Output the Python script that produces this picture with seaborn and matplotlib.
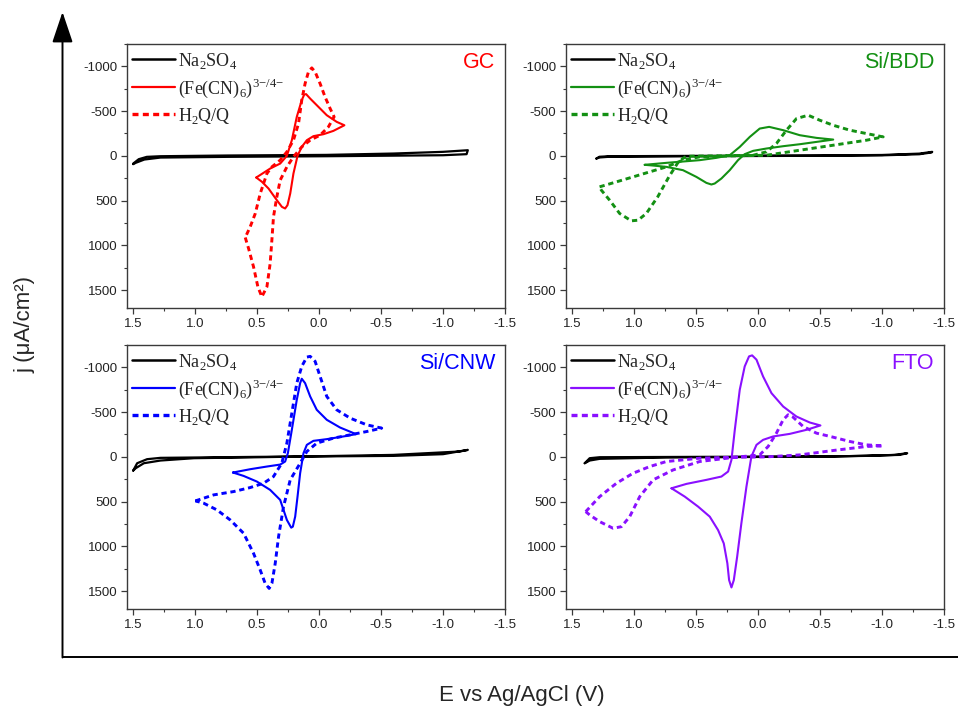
import numpy as np
import pandas as pd
import matplotlib
matplotlib.use('Agg')
import matplotlib.pyplot as plt
import seaborn as sns
from matplotlib.lines import Line2D
from matplotlib.ticker import MultipleLocator

# ---------------- data (E in V vs Ag/AgCl, j in uA/cm2) ----------------
x_ticks = [1.5, 1.0, 0.5, 0.0, -0.5, -1.0, -1.5]
y_ticks = [-1000, -500, 0, 500, 1000, 1500]
legend_labels = [r'Na$_\mathregular{2}$SO$_\mathregular{4}$',
                 r'(Fe(CN)$_\mathregular{6}$)$^\mathregular{3{-}/4{-}}$',
                 r'H$_\mathregular{2}$Q/Q']
panel_names = ['GC', 'Si/BDD', 'Si/CNW', 'FTO']
panel_colors = ['#ff0000', '#139013', '#0000ff', '#8a10ff']

# GC
gc_na_E = [1.50, 1.455, 1.39, 1.28, 0.74, -0.06, -0.60, -1.00, -1.20, -1.19, -1.00, -0.06, 0.74, 1.28, 1.41, 1.48, 1.50]
gc_na_j = [86, 37, 11, 4, -4, -11, -26, -45, -63, -19, -7, 4, 11, 19, 41, 78, 93]
gc_fe_E = [0.507, 0.394, 0.314, 0.260, 0.220, 0.180, 0.140, 0.120, 0.105, 0.072, 0.005, -0.062, -0.142, -0.204,
           -0.115, -0.035, 0.046, 0.099, 0.140, 0.174, 0.207, 0.233, 0.255, 0.274, 0.300, 0.341, 0.408, 0.461, 0.507]
gc_fe_j = [242, 141, 86, 0, -175, -436, -622, -685, -690, -640, -547, -454, -380, -342,
           -279, -242, -220, -175, -100, 0, 197, 421, 551, 588, 570, 495, 365, 290, 242]
gc_hq_E = [0.596, 0.569, 0.529, 0.494, 0.462, 0.421, 0.395, 0.381, 0.368, 0.341, 0.314, 0.260, 0.207, 0.140,
           0.072, -0.008, -0.075, -0.121, -0.089, -0.048, -0.008, 0.032, 0.059, 0.086, 0.113, 0.140, 0.166,
           0.207, 0.260, 0.314, 0.381, 0.421, 0.475, 0.515, 0.556, 0.596]
gc_hq_j = [912, 1035, 1240, 1463, 1575, 1463, 1203, 942, 681, 458, 272, 123, 11, -100,
           -175, -231, -324, -436, -529, -659, -808, -938, -983, -938, -808, -622, -361,
           -175, -45, 48, 123, 197, 421, 644, 793, 912]

# Si/BDD
bdd_na_E = [1.305, 1.28, 1.20, 0.50, -0.50, -1.00, -1.30, -1.405, -1.40, -1.30, -1.00, -0.50, 0.50, 1.20, 1.28, 1.305]
bdd_na_j = [30, 10, 4, 0, -4, -10, -25, -45, -38, -18, -6, -1, 4, 10, 18, 30]
bdd_fe_E = [0.915, 0.740, 0.471, 0.336, 0.229, 0.148, 0.067, -0.013, -0.089, -0.202, -0.336, -0.471, -0.606,
            -0.471, -0.336, -0.202, -0.067, 0.040, 0.108, 0.162, 0.229, 0.296, 0.350, 0.377, 0.417, 0.498,
            0.606, 0.740, 0.848, 0.915]
bdd_fe_j = [100, 78, 48, 22, -7, -100, -212, -305, -324, -287, -231, -201, -182,
            -156, -130, -108, -82, -56, -19, 48, 160, 253, 309, 320, 302, 235,
            160, 123, 108, 100]
bdd_hq_E = [1.279, 1.171, 1.009, 0.875, 0.740, 0.606, 0.471, 0.202, -0.067, -0.336, -0.606, -0.875, -1.009,
            -0.875, -0.740, -0.606, -0.498, -0.404, -0.310, -0.229, -0.148, -0.067, 0.040, 0.336, 0.579,
            0.640, 0.720, 0.810, 0.902, 0.969, 1.023, 1.117, 1.198, 1.265, 1.279]
bdd_hq_j = [346, 302, 235, 179, 123, 48, 11, 0, -7, -63, -119, -175, -212,
            -249, -287, -342, -398, -454, -417, -287, -138, -45, -7, 0, 4,
            60, 235, 458, 644, 719, 726, 644, 495, 383, 346]

# Si/CNW
cnw_na_E = [1.50, 1.468, 1.388, 1.28, 0.50, -0.60, -1.00, -1.20, -1.135, -0.60, 0.475, 1.01, 1.28, 1.414, 1.48, 1.50]
cnw_na_j = [153, 71, 26, 11, 0, -11, -30, -78, -60, -22, 4, 15, 41, 71, 127, 153]
cnw_fe_E = [0.695, 0.556, 0.421, 0.314, 0.274, 0.252, 0.220, 0.180, 0.153, 0.140, 0.113, 0.072, 0.019, -0.062,
            -0.169, -0.298, -0.196, -0.062, 0.046, 0.099, 0.126, 0.153, 0.174, 0.193, 0.212, 0.225, 0.260,
            0.314, 0.395, 0.502, 0.609, 0.695]
cnw_fe_j = [175, 138, 108, 86, 52, -41, -302, -638, -824, -873, -824, -675, -526, -414,
            -328, -254, -228, -198, -179, -134, -41, 183, 444, 668, 780, 791, 705,
            481, 369, 276, 213, 175]
cnw_hq_E = [0.998, 0.851, 0.690, 0.556, 0.448, 0.368, 0.301, 0.260, 0.220, 0.180, 0.140, 0.099, 0.072, 0.032,
            -0.008, -0.062, -0.142, -0.250, -0.384, -0.505, -0.384, -0.250, -0.115, 0.019, 0.099, 0.153,
            0.233, 0.287, 0.327, 0.354, 0.381, 0.403, 0.435, 0.475, 0.529, 0.609, 0.717, 0.824, 0.931, 0.998]
cnw_hq_j = [492, 425, 388, 343, 295, 220, 71, -153, -489, -824, -1011, -1115, -1123, -1067,
            -899, -675, -526, -433, -358, -321, -283, -246, -209, -153, -60, 71,
            257, 556, 891, 1190, 1414, 1470, 1414, 1265, 1078, 854, 705, 593, 518, 492]

# FTO
fto_na_E = [1.399, 1.359, 1.278, 0.50, -0.50, -0.874, -1.10, -1.203, -1.143, -0.605, 0.740, 1.278, 1.359, 1.399]
fto_na_j = [71, 15, 4, 0, -4, -11, -22, -41, -22, -4, 7, 22, 41, 71]
fto_fe_E = [0.699, 0.578, 0.417, 0.296, 0.242, 0.215, 0.188, 0.148, 0.108, 0.073, 0.048, 0.013, -0.040, -0.108,
            -0.202, -0.309, -0.417, -0.503, -0.390, -0.256, -0.121, -0.040, 0.013, 0.054, 0.094, 0.135,
            0.169, 0.196, 0.215, 0.234, 0.248, 0.277, 0.323, 0.390, 0.484, 0.592, 0.699]
fto_fe_j = [351, 302, 257, 220, 164, 34, -302, -750, -1011, -1123, -1134, -1086, -899, -712,
            -563, -451, -384, -351, -302, -257, -228, -190, -134, -4, 332, 743,
            1116, 1377, 1459, 1377, 1190, 967, 818, 668, 556, 444, 351]
fto_hq_E = [1.391, 1.278, 1.143, 1.009, 0.874, 0.740, 0.471, 0.202, -0.067, -0.336, -0.605, -0.874, -1.009,
            -0.874, -0.740, -0.605, -0.471, -0.363, -0.282, -0.242, -0.202, -0.148, -0.081, -0.013, 0.202,
            0.471, 0.686, 0.847, 0.955, 1.036, 1.103, 1.170, 1.278, 1.359, 1.391]
fto_hq_j = [612, 444, 295, 183, 108, 52, 15, 4, 0, -22, -71, -116, -123,
            -134, -172, -220, -265, -340, -444, -470, -414, -265, -116, -22, 7,
            52, 146, 257, 444, 668, 780, 798, 724, 649, 612]

# ---------------- style ----------------
sns.set_style('ticks')
plt.rcParams['font.family'] = ['Liberation Sans', 'DejaVu Sans']
plt.rcParams['axes.unicode_minus'] = False

W, H = 958, 709
fig = plt.figure(figsize=(W / 100, H / 100), dpi=100)
fig.patch.set_facecolor('white')

# overall frame (arrow + baseline)
ax0 = fig.add_axes([0, 0, 1, 1], zorder=-1)
ax0.set_xlim(0, W)
ax0.set_ylim(H, 0)
ax0.axis('off')
ax0.plot([62.5, W], [657, 657], color='black', lw=1.4, solid_capstyle='butt')
ax0.annotate('', xy=(62.5, 12), xytext=(62.5, 657.5),
             arrowprops=dict(arrowstyle='-|>,head_length=0.95,head_width=0.32',
                             mutation_scale=20, color='black', lw=1.4,
                             shrinkA=0, shrinkB=0))

def px_rect(l, t, r, b):
    return [l / W, 1 - b / H, (r - l) / W, (b - t) / H]

positions = [px_rect(127, 44, 505, 308), px_rect(566, 44, 944, 308),
             px_rect(127, 345, 505, 609), px_rect(566, 345, 944, 609)]

series = [
    (gc_na_E, gc_na_j, gc_fe_E, gc_fe_j, gc_hq_E, gc_hq_j),
    (bdd_na_E, bdd_na_j, bdd_fe_E, bdd_fe_j, bdd_hq_E, bdd_hq_j),
    (cnw_na_E, cnw_na_j, cnw_fe_E, cnw_fe_j, cnw_hq_E, cnw_hq_j),
    (fto_na_E, fto_na_j, fto_fe_E, fto_fe_j, fto_hq_E, fto_hq_j),
]

dotted = (0, (1.8, 1.3))
spine_c = '#3a3a3a'

for name, col, pos, s in zip(panel_names, panel_colors, positions, series):
    ax = fig.add_axes(pos)
    naE, naj, feE, fej, hqE, hqj = s
    sns.lineplot(data=pd.DataFrame({'E': naE, 'j': naj}), x='E', y='j', sort=False,
                 estimator=None, color='black', lw=1.6, ax=ax)
    sns.lineplot(data=pd.DataFrame({'E': feE, 'j': fej}), x='E', y='j', sort=False,
                 estimator=None, color=col, lw=1.5, ax=ax)
    sns.lineplot(data=pd.DataFrame({'E': hqE, 'j': hqj}), x='E', y='j', sort=False,
                 estimator=None, color=col, lw=2.1, linestyle=dotted, ax=ax)
    ax.set_xlim(1.55, -1.5)
    ax.set_ylim(1700, -1250)
    ax.set_xticks(x_ticks)
    ax.set_yticks(y_ticks)
    ax.xaxis.set_minor_locator(MultipleLocator(0.25))
    ax.yaxis.set_minor_locator(MultipleLocator(250))
    ax.tick_params(which='major', direction='out', length=4, width=0.9, color=spine_c,
                   labelsize=9.5, labelcolor='#222222', pad=3)
    ax.tick_params(which='minor', direction='out', length=2.5, width=0.8, color=spine_c)
    for sp in ax.spines.values():
        sp.set_color(spine_c)
        sp.set_linewidth(1.0)
    ax.set_xlabel('')
    ax.set_ylabel('')
    handles = [Line2D([], [], color='black', lw=1.8),
               Line2D([], [], color=col, lw=1.6),
               Line2D([], [], color=col, lw=2.4, linestyle=dotted)]
    ax.legend(handles, legend_labels, loc='upper left', bbox_to_anchor=(0.014, 0.975),
              frameon=False, borderpad=0, borderaxespad=0,
              prop={'family': 'Liberation Serif', 'size': 13},
              handlelength=2.35, handletextpad=0.2, labelspacing=0.33)
    ax.text(0.974, 0.929, name, transform=ax.transAxes, ha='right', va='center',
            color=col, fontsize=15.5)

fig.text(25 / W, 1 - 325 / H, 'j (μA/cm²)', rotation=90, ha='center', va='center', fontsize=16)
fig.text(522 / W, 1 - 695 / H, 'E vs Ag/AgCl (V)', ha='center', va='center', fontsize=16)

fig.savefig('out.png', dpi=100, facecolor='white')
